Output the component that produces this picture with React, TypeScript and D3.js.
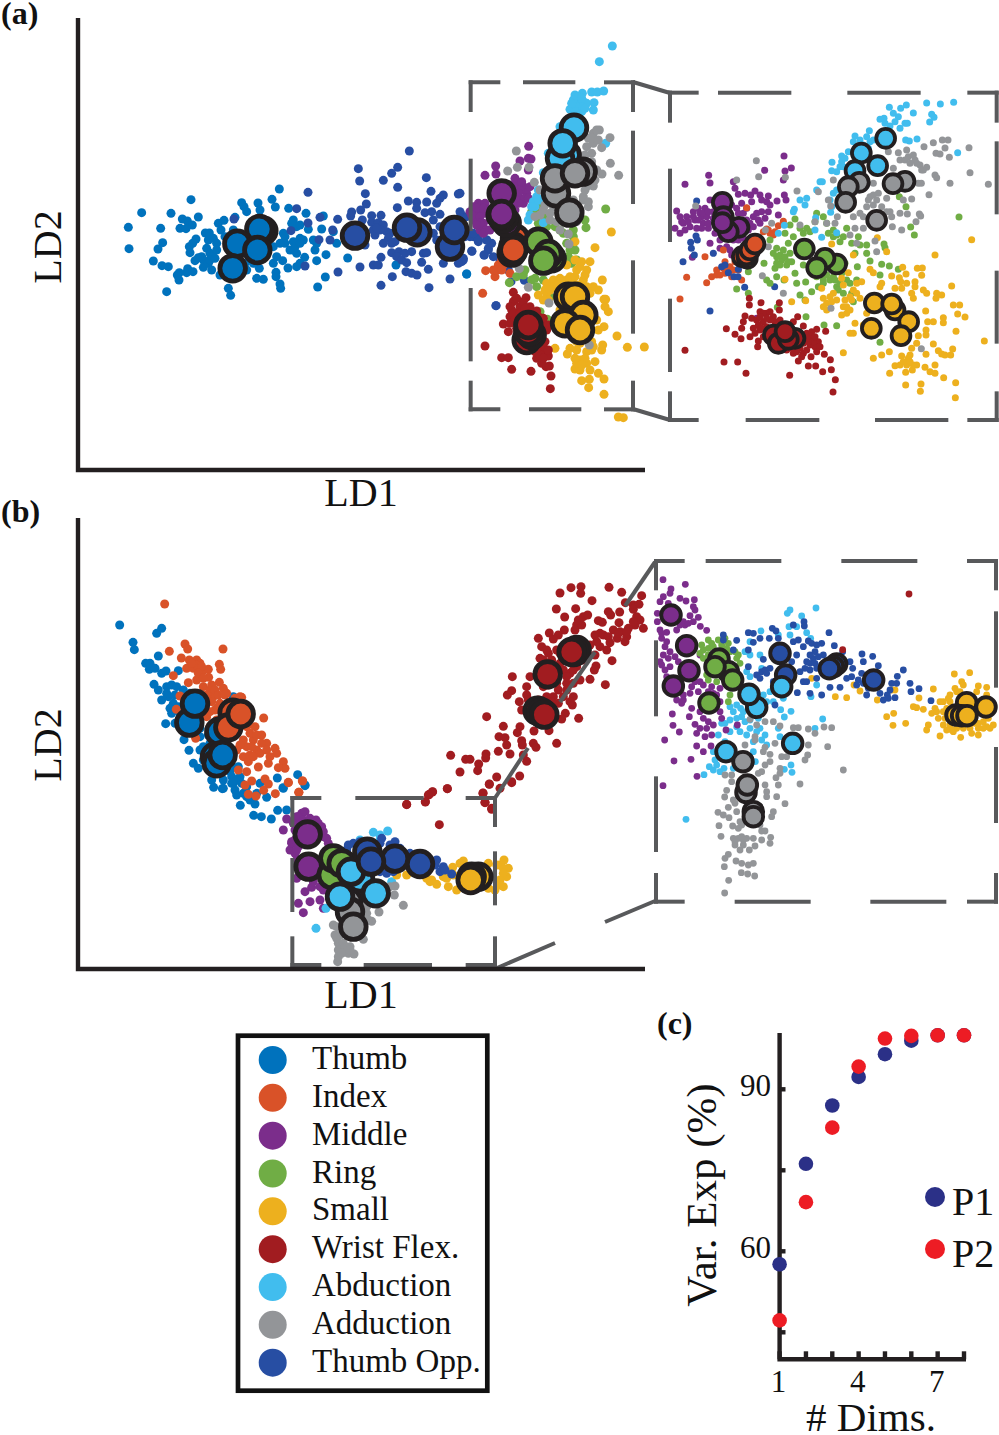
import React from "react";
import * as d3 from "d3";

type Pt = [number, number];
type Layer = [string, Pt[]];

const colors: Record<string, string> = {
  Thumb: "#0072bd", Index: "#d95228", Middle: "#7b2d8b", Ring: "#70ad45", Small: "#edb01e",
  Wrist: "#a11c20", Abd: "#41bdee", Add: "#939598", Opp: "#274ea3",
};
const legendNames = ["Thumb", "Index", "Middle", "Ring", "Small", "Wrist Flex.", "Abduction", "Adduction", "Thumb Opp."];
const legendKeys = ["Thumb", "Index", "Middle", "Ring", "Small", "Wrist", "Abd", "Add", "Opp"];

// ---------- Panel (a), left part (read in crop units, 3 per pixel, origin 100,30)
const aLeftThumb: Pt[] = [[85,592],[87,656],[125,548],[182,595],[213,550],[273,509],[188,638],[174,657],[160,693],[186,707],[205,710],[200,785],[237,750],[232,735],[238,728],[263,716],[260,728],[279,725],[247,567],[262,573],[277,585],[295,561],[240,595],[258,596],[270,668],[268,650],[288,627],[278,640],[316,609],[328,609],[325,630],[340,625],[320,655],[330,670],[285,692],[295,683],[310,690],[310,712],[325,700],[335,720],[350,660],[355,580],[372,571],[363,600],[405,562],[425,518],[432,530],[440,545],[474,519],[480,540],[516,508],[526,531],[538,477],[566,535],[580,570],[590,590],[618,550],[625,598],[600,585],[610,630],[580,635],[550,610],[555,640],[570,660],[590,670],[614,682],[600,700],[590,710],[564,714],[548,692],[530,680],[520,650],[640,630],[645,660],[650,692],[678,674],[665,597],[670,558],[743,684],[676,741],[653,771],[528,727],[528,740],[540,762],[542,775],[470,745],[490,748],[385,775],[392,796],[360,735],[478,715],[1100,732],[888,705],[710,640],[700,605],[650,640],[600,625],[580,660],[555,620],[520,700],[440,720],[460,700],[400,600],[330,690],[350,640],[305,680],[345,685],[540,640],[585,650],[600,640],[575,580],[435,700],[375,620]];
const aLeftOpp: Pt[] = [[402,567],[573,602],[590,536],[624,579],[624,487],[615,708],[657,629],[660,562],[698,600],[713,568],[690,630],[714,726],[780,711],[775,416],[779,453],[796,491],[799,522],[782,540],[755,546],[752,558],[787,570],[815,557],[843,556],[815,577],[835,578],[850,585],[860,605],[825,615],[820,705],[835,705],[843,682],[850,640],[875,668],[897,665],[890,680],[905,690],[920,698],[928,363],[893,412],[875,430],[850,451],[893,472],[979,443],[993,484],[1030,495],[1020,505],[1075,492],[1010,520],[925,513],[950,517],[980,516],[950,535],[892,533],[975,548],[995,545],[1020,553],[1083,553],[1000,570],[1020,590],[1000,610],[1010,630],[970,670],[980,668],[965,697],[985,718],[935,665],[915,670],[1030,700],[1085,695],[1115,663],[1135,635],[1120,620],[1160,630],[1165,660],[1153,675],[843,766],[877,740],[918,725],[935,730],[951,735],[1050,747],[987,773],[1188,827],[885,635],[900,620],[820,600],[1090,685],[870,610],[795,645],[1150,610],[840,600],[830,595],[865,625],[875,640],[1095,620],[1100,600]];
const aLeftBigThumb: Pt[] = [[490,602],[478,597],[412,641],[472,660],[398,715]];
const aLeftBigOpp: Pt[] = [[765,617],[952,607],[921,593],[1050,650],[1063,600]];

// ---------- Panel (a), boxed part (origin 460,30)
const aMidMiddle: Pt[] = [[206,349],[180,393],[213,387],[205,385],[107,408],[108,432],[75,436],[205,420],[170,460],[190,470],[200,490],[180,505],[165,445],[150,465],[55,520],[40,530],[30,545],[60,540],[75,550],[50,560],[70,580],[60,600],[80,600],[40,570],[90,570],[45,540],[65,525],[190,520],[160,520],[150,500],[140,470],[180,480],[210,470],[60,560],[60,580],[75,520],[165,540],[50,535],[50,585],[70,535],[85,540],[70,610],[35,555],[90,600],[160,470],[175,490],[195,505],[150,485],[175,520],[205,505],[185,455],[165,505]];
const aMidIndex: Pt[] = [[77,722],[105,740],[68,790],[115,705],[150,730],[125,690],[100,720],[110,720],[130,705],[125,720]];
const aMidOpp: Pt[] = [[0,490],[0,545],[20,560],[50,620],[55,630],[36,664],[72,675],[85,655],[95,640],[10,690],[-5,700],[120,690],[130,710],[145,720],[153,755],[193,751],[108,827],[30,620],[40,610],[80,630],[100,680]];
const aMidThumb: Pt[] = [[20,732]];
const aMidRing: Pt[] = [[437,537],[378,593],[375,570],[240,530],[215,545],[235,580],[260,590],[285,590],[340,620],[345,660],[335,700],[350,690],[170,740],[148,758],[190,735],[230,770],[240,845],[262,868],[270,800],[320,640],[340,640],[310,610],[215,750],[225,745],[250,750],[325,680],[330,660],[300,600],[235,545],[255,555],[340,600],[195,720]];
const aMidSmall: Pt[] = [[454,606],[405,653],[427,750],[390,695],[365,695],[380,720],[350,720],[330,740],[300,745],[280,750],[260,760],[235,795],[260,790],[310,770],[340,760],[370,750],[400,770],[415,780],[432,808],[437,808],[445,845],[435,830],[432,890],[471,918],[502,952],[553,951],[428,945],[425,960],[285,955],[322,972],[345,1017],[380,1000],[405,995],[390,1020],[415,1030],[432,1047],[365,1052],[388,1048],[386,1073],[432,1093],[475,1161],[490,1163],[360,990],[350,960],[380,965],[345,740],[345,635],[320,705],[290,770],[265,810],[300,840],[360,1020],[360,940],[400,950],[375,985],[350,1000],[395,960],[370,925],[360,710],[375,735],[345,690],[355,765],[380,770],[390,790],[280,770],[255,780],[295,765],[320,750],[400,850],[410,870],[415,900],[395,935],[345,985],[365,1005],[330,955],[350,935],[250,810],[270,780]];
const aMidWrist: Pt[] = [[160,787],[165,810],[198,803],[180,830],[155,840],[230,843],[130,882],[145,905],[75,948],[125,983],[145,983],[155,1018],[213,1024],[258,1010],[268,1008],[273,1038],[271,1076],[255,975],[265,978],[230,985],[245,1000],[250,880],[260,900],[240,960],[150,860],[170,850],[210,830],[190,815],[235,945],[225,965],[250,950],[160,815],[170,805],[150,830],[160,850],[180,850],[195,835],[215,850],[235,860],[250,865],[265,885],[150,880],[165,870],[240,975],[250,985],[265,960],[255,935],[230,955],[245,915],[170,895]];
const aMidAbd: Pt[] = [[457,48],[418,95],[395,186],[412,186],[431,183],[345,195],[367,190],[350,210],[370,215],[380,220],[402,218],[400,240],[340,232],[355,240],[330,238],[365,245],[300,290],[265,370],[250,428],[235,480],[220,515],[225,530],[205,570],[250,578],[437,340],[255,500],[240,510],[360,225],[345,225],[350,255],[320,300],[355,200],[340,210],[375,235],[345,245],[335,220],[365,205],[230,500],[215,530],[210,555],[235,510]];
const aMidAdd: Pt[] = [[418,300],[400,310],[385,325],[450,323],[425,353],[400,340],[380,350],[395,370],[385,400],[410,420],[451,400],[426,432],[476,436],[400,468],[375,480],[370,500],[385,530],[360,540],[340,510],[300,560],[280,530],[250,540],[225,560],[223,457],[169,363],[143,423],[172,412],[207,412],[300,600],[325,612],[327,642],[178,716],[205,772],[267,819],[388,945],[350,575],[270,570],[410,300],[395,325],[415,330],[375,375],[395,395],[370,510],[385,515],[345,530],[310,520],[240,480],[255,525],[270,550],[290,575],[240,555],[380,470],[395,430],[405,450]];
const aMidBigIndex: Pt[] = [[165,625],[160,650],[155,668],[160,660]];
const aMidBigMiddle: Pt[] = [[125,490],[140,578],[130,566],[122,555],[125,552]];
const aMidBigRing: Pt[] = [[235,635],[275,685],[265,672],[250,692]];
const aMidBigSmall: Pt[] = [[325,800],[345,800],[370,855],[315,880],[360,900]];
const aMidBigWrist: Pt[] = [[200,930],[215,915],[205,905],[205,885]];
const aMidBigAbd: Pt[] = [[342,293],[320,375],[300,385],[308,340]];
const aMidBigAdd: Pt[] = [[368,425],[288,490],[285,445],[345,430],[328,548]];

// ---------- Panel (a), inset (origin 660,80)
const aInMiddle: Pt[] = [[372,228],[394,264],[375,273],[314,271],[146,286],[150,309],[75,313],[220,305],[370,300],[373,345],[378,360],[351,363],[225,325],[235,343],[255,340],[272,345],[285,333],[300,345],[325,348],[320,365],[305,360],[275,365],[245,370],[355,405],[325,395],[315,415],[300,430],[280,410],[260,420],[150,360],[135,385],[120,400],[100,395],[50,393],[80,410],[60,410],[45,445],[60,460],[70,430],[90,440],[105,420],[130,430],[145,445],[165,460],[150,490],[180,480],[200,500],[97,532],[215,525],[235,400],[160,395],[180,430],[125,410],[205,390],[250,400],[280,440],[290,470],[290,515],[220,480],[290,715],[115,385],[140,410],[110,445],[85,425],[250,475],[270,480],[65,425],[75,450],[100,410],[115,420],[130,400],[145,395],[160,415],[145,430],[125,445],[215,375],[230,385],[260,385],[290,400],[305,395],[295,420],[270,430],[265,450],[235,480],[210,510],[180,505],[165,375],[330,375]];
const aInIndex: Pt[] = [[260,383],[370,424],[355,437],[320,447],[330,460],[345,455],[135,530],[190,510],[195,545],[170,570],[155,590],[180,585],[195,580],[210,560],[225,545],[80,592],[140,608],[60,657],[245,600],[235,570],[215,590],[310,455],[325,450],[340,465],[205,575],[190,565],[220,570],[170,585]];
const aInOpp: Pt[] = [[110,363],[108,468],[92,487],[94,505],[112,480],[103,525],[69,545],[160,520],[185,560],[195,555],[205,578],[222,590],[234,590],[235,568],[254,622],[344,620],[150,693]];
const aInRing: Pt[] = [[897,411],[763,465],[752,441],[718,350],[738,380],[470,400],[490,410],[405,417],[390,435],[440,445],[430,460],[375,460],[400,470],[330,480],[385,490],[350,505],[350,530],[365,540],[380,555],[395,545],[350,550],[345,565],[312,550],[265,575],[405,580],[430,555],[320,600],[350,590],[330,610],[372,600],[230,627],[265,640],[410,610],[437,606],[420,645],[435,660],[455,635],[475,620],[490,600],[500,585],[520,470],[540,485],[505,460],[560,445],[595,470],[585,520],[620,520],[630,543],[665,553],[688,558],[715,568],[660,585],[620,495],[672,492],[675,503],[592,560],[555,550],[545,580],[560,600],[530,620],[550,640],[575,640],[580,665],[470,590],[490,610],[492,735],[530,737],[438,710],[660,787],[352,682],[520,590],[540,610],[570,610],[590,600],[360,525],[375,530],[390,520],[385,545],[360,555],[340,520],[370,510],[420,445],[450,455],[500,430],[465,425],[520,450],[530,465],[550,470],[575,490],[600,495],[510,600],[525,600],[535,630]];
const aInSmall: Pt[] = [[935,479],[825,525],[652,473],[515,492],[680,515],[580,525],[565,578],[630,568],[640,578],[728,562],[772,565],[787,564],[738,582],[785,586],[695,588],[718,593],[722,605],[665,610],[660,620],[705,625],[725,625],[765,605],[765,620],[790,630],[800,640],[760,655],[830,640],[845,645],[828,655],[875,618],[880,675],[899,675],[893,702],[915,711],[850,713],[850,728],[797,693],[803,725],[820,725],[888,754],[973,783],[798,750],[798,765],[775,767],[770,790],[820,792],[878,807],[835,812],[845,822],[855,825],[872,825],[798,823],[755,805],[750,825],[725,828],[688,815],[665,825],[640,835],[550,818],[745,840],[740,855],[720,855],[705,857],[770,855],[795,862],[825,855],[810,875],[825,880],[851,893],[887,908],[886,953],[783,912],[781,934],[737,915],[689,880],[737,877],[757,870],[375,598],[395,665],[437,662],[485,625],[490,655],[490,680],[520,640],[510,650],[530,660],[500,690],[550,680],[560,700],[590,610],[580,630],[605,605],[545,595],[550,615],[600,655],[585,730],[580,760],[570,760],[610,735],[620,700],[570,690],[500,670],[515,665],[560,680],[555,660],[545,705],[575,660],[590,640],[570,650],[740,610],[755,640],[745,835],[760,855],[750,845],[730,845]];
const aInWrist: Pt[] = [[268,655],[268,675],[303,668],[358,668],[358,690],[255,708],[250,725],[275,715],[300,695],[320,700],[340,710],[290,720],[310,725],[280,745],[245,745],[199,746],[225,763],[243,776],[270,770],[295,783],[293,800],[75,811],[192,846],[233,846],[258,880],[389,886],[413,710],[400,725],[430,738],[470,748],[497,754],[475,785],[450,770],[465,800],[493,823],[511,839],[514,869],[526,899],[519,936],[488,875],[467,858],[445,858],[415,843],[453,830],[430,820],[400,820],[320,740],[360,720],[330,720],[300,750],[310,770],[450,795],[430,790],[380,810],[310,700],[330,695],[300,710],[320,715],[345,725],[295,735],[285,760],[305,745],[440,760],[455,755],[460,785],[440,810],[420,805],[445,785],[410,815],[425,830],[395,805],[440,775],[465,770],[480,800],[470,815]];
const aInAbd: Pt[] = [[688,82],[739,75],[800,69],[841,72],[881,67],[760,99],[722,85],[700,100],[715,110],[672,115],[660,118],[735,130],[690,138],[815,103],[822,112],[809,126],[742,130],[720,145],[628,152],[585,168],[620,170],[630,185],[625,205],[737,180],[748,183],[771,177],[893,218],[545,228],[516,247],[515,272],[530,275],[545,245],[565,215],[480,305],[487,305],[470,330],[520,340],[510,360],[512,397],[440,355],[403,388],[435,375],[420,360],[467,413],[465,450],[373,436],[355,460],[485,472],[530,458],[400,395],[550,260],[610,195],[675,130],[705,125],[640,180],[600,180],[580,185],[555,235],[540,260],[530,330],[515,380]];
const aInAdd: Pt[] = [[847,180],[864,180],[820,188],[792,200],[927,203],[855,204],[828,220],[840,222],[868,232],[930,278],[985,313],[870,310],[825,285],[830,293],[740,210],[745,230],[765,240],[780,255],[800,262],[785,270],[775,310],[784,310],[807,344],[715,218],[685,215],[720,240],[700,265],[640,310],[655,340],[640,345],[625,360],[680,355],[730,360],[755,357],[640,375],[620,380],[690,395],[720,400],[742,402],[778,402],[782,408],[768,425],[697,440],[725,450],[610,410],[600,400],[580,410],[585,445],[610,445],[570,465],[590,490],[645,483],[650,515],[532,410],[525,430],[505,360],[512,378],[475,335],[520,300],[411,333],[289,242],[296,290],[230,300],[376,292],[107,378],[420,435],[465,425],[500,430],[307,587],[370,640],[513,685],[784,806],[335,430],[316,450],[325,500],[735,240],[750,250],[760,225],[770,250],[790,270],[650,360],[665,380],[630,350],[680,395],[695,410]];
const aInBigMiddle: Pt[] = [[237,442],[205,455],[187,367],[190,410],[187,428]];
const aInBigIndex: Pt[] = [[247,530],[262,535],[260,525],[270,510],[285,492]];
const aInBigRing: Pt[] = [[433,507],[530,552],[495,535],[470,563]];
const aInBigAbd: Pt[] = [[677,175],[604,219],[653,257],[585,272]];
const aInBigAdd: Pt[] = [[598,307],[565,320],[557,367],[735,304],[699,311],[650,421]];
const aInBigSmall: Pt[] = [[705,690],[643,669],[695,672],[746,725],[634,745],[723,767]];
const aInBigWrist: Pt[] = [[340,765],[355,790],[405,775],[385,778],[375,755]];

// ---------- Panel (b), left cluster (origin 100,580)
const bLeftThumb: Pt[] = [[59,135],[185,145],[170,160],[99,187],[103,209],[175,228],[137,250],[150,250],[148,268],[165,265],[185,280],[198,273],[235,272],[162,313],[175,330],[200,320],[215,315],[230,320],[250,330],[185,360],[205,350],[220,370],[215,400],[197,431],[225,430],[252,479],[267,511],[280,550],[295,565],[320,540],[335,600],[341,622],[367,626],[370,625],[395,590],[400,610],[415,560],[420,590],[405,630],[410,645],[430,640],[465,672],[421,676],[500,652],[480,610],[532,594],[549,623],[593,584],[615,617],[461,706],[484,710],[514,717],[533,691],[560,690],[290,430],[300,470],[310,500],[400,350],[200,340],[240,400],[260,440],[350,570],[370,600],[440,620],[470,640],[225,345],[210,385],[235,380],[250,345],[270,340],[300,445],[325,465],[330,490],[300,510],[310,540],[395,560],[390,575],[410,600],[425,610],[395,610],[440,650],[450,660]];
const bLeftIndex: Pt[] = [[194,72],[255,192],[263,207],[208,214],[369,207],[244,234],[268,240],[290,240],[300,250],[260,265],[280,265],[310,270],[325,268],[358,253],[362,268],[220,287],[265,308],[290,300],[326,292],[310,320],[330,330],[358,307],[370,325],[380,340],[340,350],[360,370],[240,348],[229,388],[425,352],[491,414],[345,390],[400,470],[440,440],[465,440],[485,465],[430,480],[460,480],[500,490],[440,500],[470,510],[410,510],[430,530],[445,545],[475,561],[505,550],[525,505],[530,520],[510,530],[550,545],[555,565],[535,563],[495,597],[505,612],[415,570],[440,575],[455,603],[435,615],[445,643],[468,648],[491,631],[526,641],[565,607],[607,603],[596,637],[287,475],[360,470],[330,440],[320,410],[350,420],[290,255],[275,250],[305,260],[295,280],[310,295],[335,315],[345,330],[355,345],[375,345],[320,345],[335,365],[350,385],[330,395],[450,460],[470,465],[485,490],[455,500],[480,520],[450,525],[420,495],[460,530],[500,510],[420,350],[405,355]];
const bLeftBigThumb: Pt[] = [[268,428],[285,371],[358,455],[345,530],[350,550],[368,525]];
const bLeftBigIndex: Pt[] = [[398,398],[385,442],[422,402]];

// ---------- Panel (b), boxed part (origin 280,780)
const bMidMiddle: Pt[] = [[65,100],[75,95],[50,110],[20,117],[10,150],[108,120],[125,140],[40,130],[35,185],[30,210],[45,220],[35,190],[60,240],[130,170],[145,190],[50,295],[75,335],[95,322],[90,365],[55,370],[70,398],[120,360],[130,385],[100,305],[130,330],[60,120],[45,150],[55,200],[45,180],[50,210],[130,155],[140,175],[55,110],[70,120],[90,115],[115,130],[120,320],[50,240]];
const bMidThumb: Pt[] = [[10,25],[75,15]];
const bMidIndex: Pt[] = [[25,8],[68,3],[57,37]];
const bMidWrist: Pt[] = [[458,35],[445,45],[436,65],[380,73],[502,26],[478,134],[628,12],[609,40],[615,68],[635,88],[695,8]];
const bMidAbd: Pt[] = [[280,157],[323,153],[300,165],[335,305],[108,445],[138,385],[240,180],[300,180]];
const bMidOpp: Pt[] = [[220,190],[240,185],[305,175],[345,185],[390,220],[420,225],[470,240],[490,260],[480,275],[340,275],[320,280],[515,282],[200,210],[205,195],[235,205],[300,190],[330,195],[360,205],[400,230],[465,255],[495,270],[340,265],[300,275]];
const bMidSmall: Pt[] = [[450,305],[440,295],[470,313],[490,290],[518,262],[550,243],[672,240],[685,265],[680,290],[670,320],[645,330],[625,325],[505,320],[530,330],[380,285],[350,285],[625,250],[660,255],[670,265],[670,280],[660,300],[660,315],[650,255],[500,295],[455,300],[540,250],[520,285]];
const bMidAdd: Pt[] = [[345,318],[343,345],[370,376],[297,396],[275,424],[160,435],[165,465],[175,490],[190,490],[210,500],[222,522],[175,510],[195,515],[173,545],[250,478],[170,475],[260,400],[260,380],[175,530],[205,520],[180,465],[195,500],[185,520],[210,510],[170,440],[265,420],[260,360],[330,320]];
const bMidBigMiddle: Pt[] = [[83,163],[86,260]];
const bMidBigRing: Pt[] = [[155,285],[160,235],[185,250]];
const bMidBigAdd: Pt[] = [[205,365],[210,395],[220,440]];
const bMidBigAbd: Pt[] = [[240,295],[213,275],[180,350],[287,340]];
const bMidBigOpp: Pt[] = [[420,252],[345,236],[262,215],[273,245]];
const bMidBigSmall: Pt[] = [[595,290],[575,290],[572,300]];

// ---------- Panel (b), wrist arm (origin 400,570)
const bArmWrist: Pt[] = [[480,69],[513,53],[543,50],[542,70],[627,52],[665,67],[725,77],[576,92],[469,117],[527,116],[494,141],[625,125],[632,135],[659,126],[676,98],[700,105],[717,103],[700,118],[710,140],[720,150],[705,165],[730,175],[685,175],[657,158],[660,185],[640,180],[595,152],[607,157],[550,140],[563,135],[530,165],[525,180],[448,189],[493,180],[475,195],[460,207],[415,205],[425,230],[445,250],[420,265],[600,190],[585,195],[610,195],[652,205],[680,200],[675,215],[630,218],[620,240],[636,272],[600,230],[585,255],[588,288],[583,300],[570,328],[616,344],[540,330],[490,270],[470,240],[540,210],[337,320],[390,320],[380,350],[335,362],[322,375],[358,395],[380,375],[365,420],[520,380],[517,405],[496,430],[485,447],[536,445],[447,482],[470,520],[402,483],[260,440],[310,469],[360,470],[352,488],[297,500],[315,503],[365,512],[367,525],[400,520],[408,532],[320,525],[295,544],[330,552],[258,552],[257,564],[152,556],[197,568],[210,568],[236,582],[233,602],[180,606],[380,574],[370,555],[290,621],[268,643],[359,618],[335,635],[300,655],[142,656],[97,666],[88,673],[76,696],[20,704],[249,669],[255,697],[275,715],[460,380],[475,360],[500,340],[510,310],[490,300],[470,340],[480,280],[500,360],[440,380],[415,390],[430,350],[510,270],[530,290],[560,240],[480,250],[440,240],[455,270],[470,290],[500,320],[520,340],[490,380],[510,395],[475,400],[455,395],[445,345],[520,300],[550,270],[570,225],[590,215],[545,165],[535,150],[700,155],[680,185],[625,200],[655,190],[430,270],[405,400],[385,390],[420,300]];
const bArmBigWrist: Pt[] = [[530,240],[522,246],[515,246],[443,313],[413,422],[425,428],[433,434]];

// ---------- Panel (b), inset (origin 650,555)
const bInMiddle: Pt[] = [[39,74],[106,88],[63,102],[60,115],[40,125],[30,140],[90,130],[108,138],[133,134],[55,145],[130,155],[135,165],[120,182],[145,187],[22,175],[22,200],[130,200],[105,210],[151,214],[30,225],[50,232],[170,226],[35,250],[50,260],[80,225],[90,210],[40,300],[55,310],[30,320],[75,305],[45,345],[60,335],[85,320],[150,300],[125,395],[160,390],[145,410],[185,395],[210,400],[80,435],[100,435],[120,415],[125,460],[118,485],[67,477],[69,511],[88,531],[44,555],[135,508],[160,490],[170,520],[190,510],[140,535],[165,545],[185,540],[210,470],[215,490],[228,525],[262,510],[140,573],[160,590],[183,573],[72,618],[123,613],[141,664],[39,692],[35,235],[45,275],[60,290],[35,330],[50,365],[100,200],[115,205],[135,380],[150,380],[175,410],[100,420],[95,445],[150,470],[175,500],[150,520],[200,420],[210,440],[190,415]];
const bInRing: Pt[] = [[175,255],[205,255],[225,250],[235,265],[150,295],[160,310],[265,300],[270,325],[175,280],[190,275],[240,290],[175,375],[200,380],[240,420],[235,440],[160,285],[155,270],[215,270],[255,290],[260,310],[230,280],[185,265],[175,300],[170,360]];
const bInOpp: Pt[] = [[220,240],[220,255],[260,256],[250,285],[295,233],[310,235],[310,262],[330,250],[367,220],[378,228],[358,250],[385,250],[430,210],[462,200],[463,213],[537,233],[430,260],[445,255],[460,275],[475,258],[515,265],[553,272],[578,290],[495,290],[490,310],[470,320],[480,345],[500,340],[520,300],[600,320],[608,340],[636,297],[668,304],[640,320],[685,332],[605,365],[590,370],[620,390],[650,420],[655,400],[635,355],[650,360],[760,345],[742,364],[725,385],[740,385],[780,385],[783,410],[807,401],[843,437],[735,428],[712,420],[720,405],[700,435],[570,397],[540,397],[515,420],[480,415],[442,413],[460,380],[340,313],[335,350],[320,360],[345,345],[360,340],[330,370],[375,450],[295,335],[295,285],[425,320],[440,300],[450,350],[470,380],[540,360],[570,310],[515,330],[500,370],[370,380],[690,415],[480,300],[505,305],[480,325],[465,340],[495,325],[485,265],[500,270],[625,375],[640,385],[715,430],[350,355]];
const bInAbd: Pt[] = [[498,159],[420,165],[412,175],[455,183],[417,215],[440,215],[333,228],[470,233],[420,240],[482,250],[300,260],[385,240],[285,290],[300,300],[330,300],[290,350],[300,365],[335,340],[500,390],[483,425],[400,430],[392,464],[423,469],[403,486],[518,492],[495,520],[340,420],[350,440],[370,440],[240,455],[260,450],[280,470],[260,490],[300,495],[240,495],[260,515],[215,505],[205,540],[225,560],[330,520],[345,540],[310,560],[290,540],[385,520],[390,545],[350,570],[310,590],[240,530],[190,590],[195,615],[178,635],[190,645],[210,650],[222,640],[162,659],[250,640],[316,620],[403,643],[423,630],[426,652],[108,793],[272,460],[325,490],[360,410],[275,485],[285,500],[250,470],[225,505],[270,530],[320,530],[335,555],[300,520],[200,630]];
const bInAdd: Pt[] = [[300,493],[320,510],[345,500],[370,500],[390,513],[430,518],[445,518],[475,522],[495,535],[522,516],[545,518],[315,545],[315,555],[285,570],[345,577],[375,565],[340,590],[360,598],[395,605],[410,605],[475,570],[473,600],[465,615],[533,575],[580,645],[345,630],[360,620],[390,640],[335,650],[390,655],[378,668],[385,690],[450,687],[345,690],[350,710],[380,725],[350,725],[405,746],[225,660],[245,680],[230,706],[224,726],[250,735],[235,757],[260,770],[204,772],[220,780],[237,788],[207,812],[248,813],[213,844],[270,800],[320,800],[335,828],[345,828],[250,850],[265,850],[290,850],[310,850],[335,855],[362,847],[360,865],[255,870],[270,885],[298,885],[315,873],[235,898],[225,910],[223,935],[258,918],[275,925],[295,930],[310,925],[274,953],[293,957],[314,963],[236,976],[224,1014],[370,770],[365,785],[280,870],[280,855],[275,810],[265,820],[330,810],[255,745],[245,660],[275,845],[255,860],[325,655]];
const bInSmall: Pt[] = [[913,357],[959,353],[935,380],[940,390],[985,393],[1010,397],[920,410],[900,420],[895,430],[850,402],[807,429],[790,455],[800,458],[820,463],[855,460],[845,475],[865,490],[880,510],[835,510],[830,525],[870,543],[910,530],[932,547],[985,540],[960,520],[1010,515],[1030,510],[1015,490],[985,520],[900,440],[880,440],[890,460],[710,485],[731,475],[729,511],[767,505],[630,408],[590,428],[556,425],[612,390],[682,435],[725,405],[735,405],[485,370],[880,470],[940,520],[1000,500],[870,440],[885,490],[900,510],[920,520],[945,505],[975,505],[1000,520],[1020,520],[905,525],[890,525],[985,505],[965,535],[915,400],[930,410],[980,410],[1010,420],[860,470]];
const bInWrist: Pt[] = [[777,117],[578,284]];
const bInBigMiddle: Pt[] = [[63,180],[110,272],[117,347],[70,393]];
const bInBigRing: Pt[] = [[207,312],[235,350],[195,335],[248,375],[177,444]];
const bInBigOpp: Pt[] = [[390,295],[407,360],[560,327],[550,335],[538,341],[671,375]];
const bInBigAbd: Pt[] = [[320,457],[297,418],[395,395],[228,590],[428,565]];
const bInBigAdd: Pt[] = [[279,620],[288,712],[292,690],[310,770],[310,785]];
const bInBigSmall: Pt[] = [[950,443],[1008,456],[918,480],[935,482],[951,482]];

// ---------- Panel (c)
const dims = [1, 2, 3, 4, 5, 6, 7, 8];
const p1Values = [57.6, 76.2, 87, 92.3, 96.5, 99, 100, 100];
const p2Values = [47.2, 69.1, 82.9, 94.2, 99.4, 99.9, 100, 100];
const cYTicks = [45, 60, 75, 90];
const cYLabels = [60, 90];
const cXLabels = [1, 4, 7];

// ---------- Dash segments of the boxes (crop units along each edge)
const aBoxTop: Pt[] = [[32,115],[195,340],[438,519]];
const aBoxBottom: Pt[] = [[32,115],[213,358],[438,519]];
const aBoxLeft: Pt[] = [[157,240],[392,597],[780,988],[1058,1138]];
const aBoxRight: Pt[] = [[157,240],[308,516],[697,905],[1058,1138]];
const aInTop: Pt[] = [[30,110],[180,388],[568,776],[928,1010]];
const aInBottom: Pt[] = [[30,110],[263,472],[651,859],[928,1010]];
const aInLeft: Pt[] = [[38,122],[272,480],[662,870],[940,1020]];
const aInRight: Pt[] = [[38,122],[190,397],[578,785],[940,1020]];
const bBoxTop: Pt[] = [[37,118],[232,425],[563,645]];
const bBoxBottom: Pt[] = [[37,118],[257,450],[563,645]];
const bBoxLeft: Pt[] = [[54,135],[240,390],[475,555]];
const bBoxRight: Pt[] = [[54,135],[220,370],[475,555]];
const bInTop: Pt[] = [[18,98],[173,388],[580,796],[957,1038]];
const bInBottom: Pt[] = [[18,98],[260,476],[667,883],[957,1038]];
const bInLeft: Pt[] = [[18,100],[262,478],[670,885],[960,1040]];
const bInRight: Pt[] = [[18,100],[175,392],[582,798],[960,1040]];

const BOX = "#58595b";
const INK = "#231f20";
const FONT = "'Liberation Serif', serif";

// every crop was read at 3 units per pixel
const crop = (x0: number, y0: number) => ({
  x: d3.scaleLinear().domain([0, 3]).range([x0, x0 + 1]),
  y: d3.scaleLinear().domain([0, 3]).range([y0, y0 + 1]),
});

function Dots({ o, layers, r }: { o: [number, number]; layers: Layer[]; r: number }) {
  const s = crop(o[0], o[1]);
  return (
    <g>
      {layers.map(([k, pts], i) => (
        <g key={i} fill={colors[k]}>
          {pts.map((p, j) => <circle key={j} cx={s.x(p[0])} cy={s.y(p[1])} r={r} />)}
        </g>
      ))}
    </g>
  );
}

function Bigs({ o, layers, r, w }: { o: [number, number]; layers: Layer[]; r: number; w: number }) {
  const s = crop(o[0], o[1]);
  return (
    <g stroke={INK} strokeWidth={w}>
      {layers.map(([k, pts], i) => (
        <g key={i} fill={colors[k]}>
          {pts.map((p, j) => <circle key={j} cx={s.x(p[0])} cy={s.y(p[1])} r={r} />)}
        </g>
      ))}
    </g>
  );
}

function DashBox({ o, x0, x1, y0, y1, top, bottom, left, right }: {
  o: [number, number]; x0: number; x1: number; y0: number; y1: number;
  top: Pt[]; bottom: Pt[]; left: Pt[]; right: Pt[];
}) {
  const s = crop(o[0], o[1]);
  const segs: [number, number, number, number][] = [
    ...top.map((d): [number, number, number, number] => [d[0], y0, d[1], y0]),
    ...bottom.map((d): [number, number, number, number] => [d[0], y1, d[1], y1]),
    ...left.map((d): [number, number, number, number] => [x0, d[0], x0, d[1]]),
    ...right.map((d): [number, number, number, number] => [x1, d[0], x1, d[1]]),
  ];
  return (
    <g stroke={BOX} strokeWidth={4} fill="none" strokeLinecap="square">
      {segs.map((g, i) => <line key={i} x1={s.x(g[0])} y1={s.y(g[1])} x2={s.x(g[2])} y2={s.y(g[3])} />)}
    </g>
  );
}

const Label = ({ x, y, size, children, anchor = "start", weight = "normal", rotate }: any) => (
  <text x={x} y={y} fontSize={size} fontFamily={FONT} fontWeight={weight} textAnchor={anchor} fill="#111"
    transform={rotate ? `rotate(${rotate} ${x} ${y})` : undefined}>{children}</text>
);

export default function App() {
  const cx = d3.scaleLinear().domain([1, 8]).range([779.6, 964]);
  const cy = d3.scaleLinear().domain([45, 90]).range([1332.3, 1089.3]);
  const legendY = d3.scalePoint<string>().domain(legendNames).range([1060, 1362.7]);

  return (
    <svg width={999} height={1435} style={{ position: "absolute", left: 0, top: 0, background: "#fff" }}>
      {/* panel labels */}
      <Label x={1} y={24} size={32} weight="bold">(a)</Label>
      <Label x={1} y={522} size={32} weight="bold">(b)</Label>
      <Label x={657} y={1034} size={32} weight="bold">(c)</Label>

      {/* panel a */}
      <Dots o={[100, 30]} r={4.5} layers={[["Thumb", aLeftThumb], ["Opp", aLeftOpp]]} />
      <Dots o={[460, 30]} r={4.5} layers={[["Thumb", aMidThumb], ["Opp", aMidOpp], ["Middle", aMidMiddle], ["Index", aMidIndex], ["Ring", aMidRing], ["Small", aMidSmall], ["Wrist", aMidWrist], ["Abd", aMidAbd], ["Add", aMidAdd]]} />
      <DashBox o={[460, 30]} x0={32} x1={519} y0={157} y1={1138} top={aBoxTop} bottom={aBoxBottom} left={aBoxLeft} right={aBoxRight} />
      <Bigs o={[100, 30]} r={12.8} w={4.8} layers={[["Thumb", aLeftBigThumb], ["Opp", aLeftBigOpp]]} />
      <Bigs o={[460, 30]} r={12.8} w={4.8} layers={[["Index", aMidBigIndex], ["Middle", aMidBigMiddle], ["Ring", aMidBigRing], ["Small", aMidBigSmall], ["Wrist", aMidBigWrist], ["Abd", aMidBigAbd], ["Add", aMidBigAdd]]} />
      <g stroke={BOX} strokeWidth={4}>
        <line x1={633} y1={82} x2={670} y2={93} />
        <line x1={633} y1={409} x2={670} y2={420} />
      </g>
      <Dots o={[660, 80]} r={3.5} layers={[["Middle", aInMiddle], ["Index", aInIndex], ["Opp", aInOpp], ["Ring", aInRing], ["Small", aInSmall], ["Wrist", aInWrist], ["Abd", aInAbd], ["Add", aInAdd]]} />
      <Bigs o={[660, 80]} r={9.4} w={3.8} layers={[["Middle", aInBigMiddle], ["Index", aInBigIndex], ["Ring", aInBigRing], ["Small", aInBigSmall], ["Wrist", aInBigWrist], ["Abd", aInBigAbd], ["Add", aInBigAdd]]} />
      <DashBox o={[660, 80]} x0={30} x1={1010} y0={38} y1={1020} top={aInTop} bottom={aInBottom} left={aInLeft} right={aInRight} />
      <path d="M78 18V470H645" fill="none" stroke={INK} strokeWidth={4.4} />
      <Label x={361} y={506} size={40} anchor="middle">LD1</Label>
      <Label x={61} y={247} size={40} anchor="middle" rotate={-90}>LD2</Label>

      {/* panel b */}
      <Dots o={[100, 580]} r={4.5} layers={[["Thumb", bLeftThumb], ["Index", bLeftIndex]]} />
      <Dots o={[400, 570]} r={4.5} layers={[["Wrist", bArmWrist]]} />
      <Dots o={[280, 780]} r={4.5} layers={[["Thumb", bMidThumb], ["Index", bMidIndex], ["Wrist", bMidWrist], ["Middle", bMidMiddle], ["Abd", bMidAbd], ["Small", bMidSmall], ["Opp", bMidOpp], ["Add", bMidAdd]]} />
      <DashBox o={[280, 780]} x0={37} x1={645} y0={54} y1={555} top={bBoxTop} bottom={bBoxBottom} left={bBoxLeft} right={bBoxRight} />
      <Bigs o={[100, 580]} r={12.8} w={4.8} layers={[["Thumb", bLeftBigThumb], ["Index", bLeftBigIndex]]} />
      <Bigs o={[400, 570]} r={12.8} w={4.8} layers={[["Wrist", bArmBigWrist]]} />
      <g stroke={BOX} strokeWidth={4}>
        <line x1={495} y1={798} x2={528} y2={748} />
        <line x1={560} y1={702} x2={595} y2={652} />
        <line x1={625} y1={606} x2={655} y2={562} />
        <line x1={497} y1={968} x2={555} y2={943} />
        <line x1={605} y1={922} x2={655} y2={901} />
      </g>
      <Bigs o={[280, 780]} r={12.8} w={4.8} layers={[["Middle", bMidBigMiddle], ["Ring", bMidBigRing], ["Add", bMidBigAdd], ["Abd", bMidBigAbd], ["Opp", bMidBigOpp], ["Small", bMidBigSmall]]} />
      <Dots o={[650, 555]} r={3.4} layers={[["Small", bInSmall], ["Abd", bInAbd], ["Add", bInAdd], ["Middle", bInMiddle], ["Ring", bInRing], ["Opp", bInOpp], ["Wrist", bInWrist]]} />
      <Bigs o={[650, 555]} r={9.8} w={3.9} layers={[["Middle", bInBigMiddle], ["Ring", bInBigRing], ["Opp", bInBigOpp], ["Abd", bInBigAbd], ["Add", bInBigAdd], ["Small", bInBigSmall]]} />
      <DashBox o={[650, 555]} x0={18} x1={1038} y0={18} y1={1040} top={bInTop} bottom={bInBottom} left={bInLeft} right={bInRight} />
      <path d="M78 518V969H645" fill="none" stroke={INK} strokeWidth={4.4} />
      <Label x={361} y={1008} size={40} anchor="middle">LD1</Label>
      <Label x={61} y={745} size={40} anchor="middle" rotate={-90}>LD2</Label>

      {/* legend */}
      <rect x={238} y={1035.7} width={249.3} height={355} fill="#fff" stroke="#111" strokeWidth={4.7} />
      {legendNames.map((n, i) => (
        <g key={n}>
          <circle cx={272.7} cy={legendY(n)} r={14} fill={colors[legendKeys[i]]} />
          <Label x={312} y={(legendY(n) as number) + 9} size={33}>{n}</Label>
        </g>
      ))}

      {/* panel c */}
      <g stroke={INK} strokeWidth={4.4} fill="none">
        <path d={`M779.6 1033V${cy(40)}H${cx(8) + 2}`} />
        {cYTicks.map(t => <line key={t} x1={779.6} x2={785.5} y1={cy(t)} y2={cy(t)} />)}
        {dims.map(d => <line key={d} x1={cx(d)} x2={cx(d)} y1={cy(40)} y2={cy(40) - 8} />)}
      </g>
      {dims.map((d, i) => <circle key={d} cx={cx(d)} cy={cy(p1Values[i])} r={7.3} fill="#2b3087" />)}
      {dims.map((d, i) => <circle key={d} cx={cx(d)} cy={cy(p2Values[i])} r={7.3} fill="#ed1c24" />)}
      {cYLabels.map(t => <Label key={t} x={771} y={cy(t) + 7} size={31} anchor="end">{t}</Label>)}
      {cXLabels.map(t => <Label key={t} x={cx(t) - 1} y={1392} size={31} anchor="middle">{t}</Label>)}
      <Label x={871} y={1431} size={41} anchor="middle"># Dims.</Label>
      <Label x={716} y={1195} size={43} anchor="middle" rotate={-90}>Var. Exp (%)</Label>
      <circle cx={935} cy={1197} r={10} fill="#2b3087" />
      <circle cx={935} cy={1249} r={10} fill="#ed1c24" />
      <Label x={952} y={1215} size={40}>P1</Label>
      <Label x={952} y={1267} size={40}>P2</Label>
    </svg>
  );
}
